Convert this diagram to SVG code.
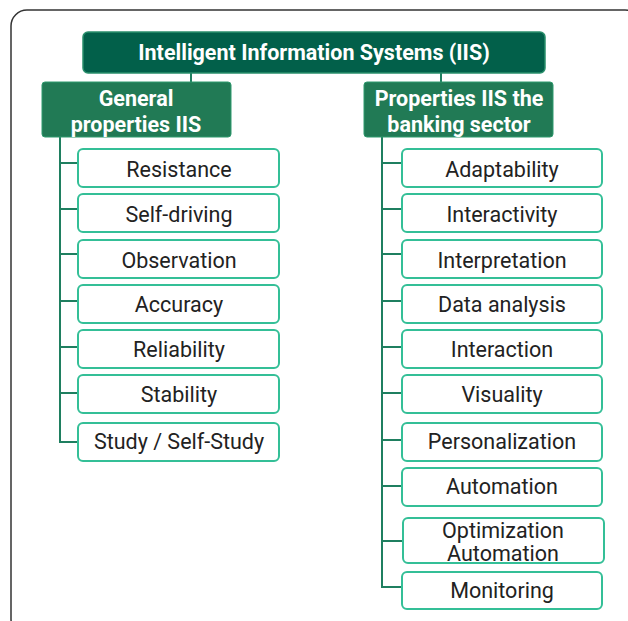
<svg xmlns="http://www.w3.org/2000/svg" width="628" height="621" viewBox="0 0 628 621">
<style>
.frame{fill:#fff;stroke:#333;stroke-width:1.5}
.top{fill:#02604a;stroke:#2a8f6c;stroke-width:1.5}
.hdr{fill:#217a55;stroke:#2f9a6e;stroke-width:1}
.item{fill:#fff;stroke:#34bf97;stroke-width:2}
.ht{font-family:Roboto,"Liberation Sans",sans-serif;font-weight:bold;font-size:21.5px;fill:#fff;text-anchor:middle}
.it{font-family:Roboto,"Liberation Sans",sans-serif;font-size:21.5px;fill:#222;text-anchor:middle}
.con{fill:none;stroke:#1f7f60;stroke-width:2}
</style>
<rect width="628" height="621" fill="#fff"/>
<rect class="frame" x="11" y="10" width="630" height="625" rx="16"/>
<g id="connectors">
<path class="con" d="M191 73V82M441 73V82"/>
<path class="con" d="M60 137V442H78M60 163H78M60 209H78M60 254H78M60 301H78M60 347H78M60 393H78"/>
<path class="con" d="M382 137V587H402M382 163H402M382 209H402M382 254H402M382 301H402M382 347H402M382 393H402M382 440H402M382 486H402M382 541H403"/>
</g>
<g id="root"><rect class="top" x="83" y="32" width="462" height="41" rx="5"/><text class="ht" x="314" y="60">Intelligent Information Systems (IIS)</text></g>
<g id="general"><rect class="hdr" x="42" y="82" width="189" height="55" rx="3"/><text class="ht" x="136" y="106">General</text><text class="ht" x="136" y="132">properties IIS</text></g>
<g id="banking"><rect class="hdr" x="364" y="82" width="189" height="55" rx="3"/><text class="ht" x="459" y="106">Properties IIS the</text><text class="ht" x="459" y="132">banking sector</text></g>
<g id="g1"><rect class="item" x="78" y="149" width="201" height="38" rx="5"/><text class="it" x="179" y="177">Resistance</text></g>
<g id="g2"><rect class="item" x="78" y="194" width="201" height="38" rx="5"/><text class="it" x="179" y="222">Self-driving</text></g>
<g id="g3"><rect class="item" x="78" y="240" width="201" height="38" rx="5"/><text class="it" x="179" y="268">Observation</text></g>
<g id="g4"><rect class="item" x="78" y="285" width="201" height="38" rx="5"/><text class="it" x="179" y="312">Accuracy</text></g>
<g id="g5"><rect class="item" x="78" y="330" width="201" height="38" rx="5"/><text class="it" x="179" y="357">Reliability</text></g>
<g id="g6"><rect class="item" x="78" y="375" width="201" height="38" rx="5"/><text class="it" x="179" y="402">Stability</text></g>
<g id="g7"><rect class="item" x="78" y="423" width="201" height="38" rx="5"/><text class="it" x="179" y="449">Study / Self-Study</text></g>
<g id="b1"><rect class="item" x="402" y="149" width="200" height="38" rx="5"/><text class="it" x="502" y="177">Adaptability</text></g>
<g id="b2"><rect class="item" x="402" y="194" width="200" height="38" rx="5"/><text class="it" x="502" y="222">Interactivity</text></g>
<g id="b3"><rect class="item" x="402" y="240" width="200" height="38" rx="5"/><text class="it" x="502" y="268">Interpretation</text></g>
<g id="b4"><rect class="item" x="402" y="285" width="200" height="38" rx="5"/><text class="it" x="502" y="312">Data analysis</text></g>
<g id="b5"><rect class="item" x="402" y="330" width="200" height="38" rx="5"/><text class="it" x="502" y="357">Interaction</text></g>
<g id="b6"><rect class="item" x="402" y="375" width="200" height="38" rx="5"/><text class="it" x="502" y="402">Visuality</text></g>
<g id="b7"><rect class="item" x="402" y="423" width="200" height="38" rx="5"/><text class="it" x="502" y="449">Personalization</text></g>
<g id="b8"><rect class="item" x="402" y="468" width="200" height="38" rx="5"/><text class="it" x="502" y="494">Automation</text></g>
<g id="b9"><rect class="item" x="403" y="518" width="201" height="45" rx="5"/><text class="it" x="503" y="538">Optimization</text><text class="it" x="503" y="561">Automation</text></g>
<g id="b10"><rect class="item" x="402" y="572" width="200" height="37" rx="5"/><text class="it" x="502" y="598">Monitoring</text></g>
</svg>
